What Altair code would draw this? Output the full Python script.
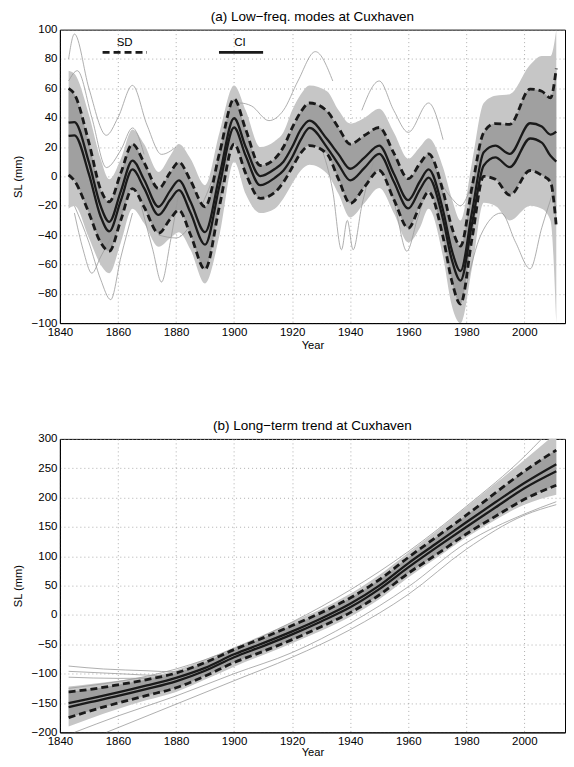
import altair as alt
import pandas as pd

FONT = "Liberation Sans"

# ---------------- Panel (a): low-frequency modes ----------------
years_a = [1843, 1845, 1850, 1854, 1857, 1861, 1865, 1869, 1874, 1878, 1881, 1885, 1890, 1895,
           1900, 1904, 1909, 1914, 1917, 1920, 1923, 1926, 1932, 1936, 1940, 1945, 1950, 1955,
           1960, 1964, 1967, 1972, 1975, 1978, 1982, 1986, 1990, 1995, 2002, 2006, 2009, 2011]
ci_hi_a = [36.6, 37, 9.5, -20, -31, -10, 10.8, -2.3, -20.7, -9.7, -2.7, -17.3, -38, 0.8,
           39.6, 20, 0.2, 5, 10, 20, 32, 38, 25.4, 15, 5.2, 13, 20.9, 2,
           -16.2, -3.5, 4.7, -23.3, -50.3, -64.5, -24, 16.4, 20.9, 15.3, 36.2, 34, 28.5, 30.5]
ci_lo_a = [27.6, 28, 1.5, -27.2, -37.5, -16.4, 4.7, -8, -26.3, -16, -9.4, -24.8, -46.5, -6,
           33.3, 14, -6, -1, 4, 13, 25, 33, 19.8, 8, -2.7, 6, 15.3, -3.5,
           -21.8, -9, -0.9, -29.4, -56.8, -71, -32, 7.4, 13, 6.3, 25.8, 23, 14, 10.1]
sd_hi_a = [60, 56, 23, -8.8, -17.3, 2.4, 22, 9.4, -8.3, 2.7, 9.7, -2.9, -20.7, 16,
           52.8, 32, 7.4, 12, 20, 33, 44, 50, 44.5, 33, 22, 28, 33.3, 16,
           -1.6, 8.7, 15.3, -10.2, -34.7, -47.5, -7, 30, 36, 35.5, 59.5, 58, 53.5, 73.7]
sd_lo_a = [1, -3, -25, -45, -51, -29.7, -8.3, -20.9, -38.7, -29.1, -23, -39.8, -63.4, -20,
           22, 2, -15, -11, -4, 6, 16, 21, 15.3, -2, -18.4, -7, 4, -15.6,
           -35.3, -20.2, -10.6, -41.5, -71.3, -87, -42, 0, -2, -12.8, 4, 0.7, -3.8, -34]
env_hi_a = [72, 70, 42, 12, -2, 12, 32, 22, 3, 14, 22, 12, -6, 30,
            62, 45, 20, 24, 30, 45, 56, 62, 58, 45, 36, 40, 46, 30,
            12, 20, 26, 6, -15, -30, 10, 50, 55, 56, 76, 82, 82, 100]
env_lo_a = [-22, -20, -42, -60, -66, -45, -22, -32, -48, -42, -38, -50, -73, -40,
            10, -12, -25, -22, -15, -5, 4, 8, 2, -12, -28, -18, -8, -25,
            -45, -35, -22, -55, -88, -100, -62, -18, -20, -30, -20, -22, -30, -100]

# individual outlying ensemble members, panel (a)
a_o1_x = [1843, 1845, 1850, 1856, 1860, 1865, 1870, 1875, 1880]
a_o1_y = [80, 97, 60, 28, 40, 62, 35, 15, 20]
a_o2_x = [1843, 1846, 1851, 1856, 1861, 1865, 1869]
a_o2_y = [65, 72, 40, 6, 18, 33, 15]
a_o3_x = [1845, 1850, 1854, 1857.5, 1861, 1865]
a_o3_y = [-20, -45, -70, -84, -55, -25]
a_o4_x = [1845, 1848, 1851, 1854, 1858]
a_o4_y = [-25, -50, -66, -55, -40]
a_o5_x = [1868, 1872, 1875, 1878, 1881]
a_o5_y = [-20, -50, -72, -45, -10]
a_o6_x = [1874, 1880, 1886, 1892, 1897, 1902]
a_o6_y = [-40, -42, -30, -5, 25, 40]
a_o7_x = [1898, 1902, 1906, 1912, 1917, 1922, 1928, 1934]
a_o7_y = [45, 50, 48, 38, 45, 65, 85, 65]
a_o8_x = [1930, 1934, 1937, 1939, 1941, 1944, 1948]
a_o8_y = [20, -10, -50, -30, -50, -20, 10]
a_o9_x = [1952, 1956, 1959.5, 1963, 1967]
a_o9_y = [10, -25, -51, -30, -5]
a_o10_x = [1944, 1950, 1955, 1960, 1967, 1972]
a_o10_y = [45, 65, 45, 30, 50, 25]
a_o11_x = [1980, 1985, 1992, 1997, 2002, 2006, 2010]
a_o11_y = [-75, -40, -25, -45, -63, -35, -10]
a_o12_x = [1970, 1975, 1978, 1982, 1986]
a_o12_y = [0, -15, -20, -5, 20]

# legend (in data units of panel a)
leg_label = ["SD", "CI"]
leg_x1 = [1854.7, 1894.8]
leg_x2 = [1870, 1910]
leg_line_y = [84.5, 84.5]
leg_text_x = [1862.3, 1902]
leg_text_y = [91, 91]

# ---------------- Panel (b): long-term trend ----------------
years_b = [1843, 1850, 1860, 1870, 1880, 1890, 1900, 1910, 1920, 1930, 1940, 1950, 1960,
           1970, 1980, 1990, 2000, 2011]
ci_hi_b = [-150, -143, -132, -120, -107, -90, -67, -48, -28, -6, 19, 50, 88, 123, 158, 192, 225, 257]
ci_lo_b = [-157, -149, -138, -126, -113, -95, -72, -53, -33, -11, 13, 44, 81, 116, 150, 183, 216, 245]
sd_hi_b = [-131, -127, -119, -110, -99, -81, -59, -39, -18, 4, 29, 60, 98, 134, 170, 208, 245, 281]
sd_lo_b = [-175, -164, -150, -137, -124, -104, -81, -62, -42, -20, 4, 34, 71, 104, 138, 168, 197, 221]
env_hi_b = [-122, -118, -112, -105, -94, -76, -55, -34, -12, 10, 36, 68, 106, 144, 184, 224, 264, 310]
env_lo_b = [-190, -177, -160, -145, -131, -110, -88, -68, -48, -27, -3, 27, 64, 98, 132, 162, 188, 205]

b_o1_x = [1843, 1855, 1870, 1880, 1890, 1900]
b_o1_y = [-87, -92, -95, -97, -85, -58]
b_o2_x = [1843, 1860, 1875, 1890, 1900]
b_o2_y = [-96, -100, -103, -90, -62]
b_o3_x = [1843, 1860, 1880, 1895]
b_o3_y = [-106, -108, -107, -80]
b_o4_x = [1856, 1880, 1900, 1920, 1940, 1960, 1980, 2000, 2011]
b_o4_y = [-200, -152, -112, -72, -25, 35, 112, 170, 188]
b_o5_x = [1845, 1860, 1880, 1900, 1920, 1940, 1960, 1980, 2000, 2011]
b_o5_y = [-200, -172, -138, -100, -64, -14, 48, 123, 172, 193]
b_o6_x = [1843, 1880, 1920, 1960, 1980, 2000, 2006]
b_o6_y = [-125, -92, -12, 108, 185, 270, 300]

# ---------------- build tables ----------------
def band_df(yrs, lo, hi):
    return pd.DataFrame({"year": yrs, "lo": lo, "hi": hi})

def lines_df(pairs):
    rows = []
    for name, (xs, ys) in pairs.items():
        for x, y in zip(xs, ys):
            rows.append({"year": x, "value": y, "series": name})
    return pd.DataFrame(rows)

W, H = 506, 294
x_scale = alt.Scale(domain=[1840, 2014], nice=False, zero=False)

GRAY_OUT = "#c6c6c6"
GRAY_IN = "#a0a0a0"
GRAY_LINE = "#9a9a9a"
BLACK = "#1a1a1a"


def panel(title, yrs, ci_hi, ci_lo, sd_hi, sd_lo, env_hi, env_lo, outliers, ydom, ystep,
          legend=False, xtitle_pad=2):
    y_scale = alt.Scale(domain=ydom, nice=False, zero=False)
    y_axis = alt.Axis(values=list(range(ydom[0], ydom[1] + 1, ystep)), title="SL (mm)",
                      labelOverlap=False, labelFlush=False)
    x_axis = alt.Axis(values=list(range(1840, 2001, 20)), format="d", title="Year",
                      labelOverlap=False, labelFlush=False, titlePadding=xtitle_pad)

    def X(f="year"):
        return alt.X(f + ":Q", scale=x_scale, axis=x_axis)

    def Y(f):
        return alt.Y(f + ":Q", scale=y_scale, axis=y_axis)

    outer = alt.Chart(band_df(yrs, env_lo, env_hi)).mark_area(
        color=GRAY_OUT, interpolate="monotone", clip=True
    ).encode(x=X(), y=Y("lo"), y2="hi:Q")

    inner = alt.Chart(band_df(yrs, sd_lo, sd_hi)).mark_area(
        color=GRAY_IN, interpolate="monotone", clip=True
    ).encode(x=X(), y=Y("lo"), y2="hi:Q")

    gray = alt.Chart(lines_df(outliers)).mark_line(
        color=GRAY_LINE, strokeWidth=0.8, interpolate="monotone", clip=True
    ).encode(x=X(), y=Y("value"), detail="series:N")

    sd = alt.Chart(lines_df({"sd_hi": (yrs, sd_hi), "sd_lo": (yrs, sd_lo)})).mark_line(
        color=BLACK, strokeWidth=2.8, strokeDash=[7, 4], interpolate="monotone", clip=True
    ).encode(x=X(), y=Y("value"), detail="series:N")

    ci = alt.Chart(lines_df({"ci_hi": (yrs, ci_hi), "ci_lo": (yrs, ci_lo)})).mark_line(
        color=BLACK, strokeWidth=2.3, interpolate="monotone", clip=True
    ).encode(x=X(), y=Y("value"), detail="series:N")

    layers = [outer, inner, gray, sd, ci]

    if legend:
        leg = pd.DataFrame({"label": leg_label, "x1": leg_x1, "x2": leg_x2,
                            "ly": leg_line_y, "tx": leg_text_x, "ty": leg_text_y})
        leg_sd = alt.Chart(leg[leg.label == "SD"]).mark_rule(
            color=BLACK, strokeWidth=2.8, strokeDash=[7, 4]
        ).encode(x=X("x1"), x2="x2:Q", y=Y("ly"))
        leg_ci = alt.Chart(leg[leg.label == "CI"]).mark_rule(
            color=BLACK, strokeWidth=2.8
        ).encode(x=X("x1"), x2="x2:Q", y=Y("ly"))
        leg_txt = alt.Chart(leg).mark_text(
            font=FONT, fontSize=11.5, color="black", baseline="middle", align="center"
        ).encode(x=X("tx"), y=Y("ty"), text="label:N")
        layers += [leg_sd, leg_ci, leg_txt]

    return alt.layer(*layers).properties(
        width=W, height=H,
        title=alt.TitleParams(title, font=FONT, fontSize=13.5, fontWeight="normal",
                              color="black", offset=0, frame="group"),
    )


top = panel("(a) Low\u2212freq. modes at Cuxhaven", years_a, ci_hi_a, ci_lo_a, sd_hi_a, sd_lo_a,
            env_hi_a, env_lo_a,
            {"o1": (a_o1_x, a_o1_y), "o2": (a_o2_x, a_o2_y), "o3": (a_o3_x, a_o3_y),
             "o4": (a_o4_x, a_o4_y), "o5": (a_o5_x, a_o5_y), "o6": (a_o6_x, a_o6_y),
             "o7": (a_o7_x, a_o7_y), "o8": (a_o8_x, a_o8_y), "o9": (a_o9_x, a_o9_y),
             "o10": (a_o10_x, a_o10_y), "o11": (a_o11_x, a_o11_y), "o12": (a_o12_x, a_o12_y)},
            [-100, 100], 20, legend=True, xtitle_pad=2)

bottom = panel("(b) Long\u2212term trend at Cuxhaven", years_b, ci_hi_b, ci_lo_b, sd_hi_b, sd_lo_b,
               env_hi_b, env_lo_b,
               {"o1": (b_o1_x, b_o1_y), "o2": (b_o2_x, b_o2_y), "o3": (b_o3_x, b_o3_y),
                "o4": (b_o4_x, b_o4_y), "o5": (b_o5_x, b_o5_y), "o6": (b_o6_x, b_o6_y)},
               [-200, 300], 50, xtitle_pad=0)

chart = alt.vconcat(top, bottom, spacing=67).properties(
    padding={"left": 3, "top": 1, "right": 0, "bottom": 0}
).configure_view(
    stroke="black", strokeWidth=1
).configure_axis(
    labelFont=FONT, titleFont=FONT, labelFontSize=11.5, titleFontSize=11.2,
    titleFontWeight="normal", labelColor="black", titleColor="black",
    grid=True, gridDash=[1, 3], gridColor="#9a9a9a", gridWidth=0.8,
    ticks=False, labelPadding=3, domainColor="black", labelOverlap=False,
).configure_axisY(
    titlePadding=8
)

chart.save("out.html", embed_options={"renderer": "svg", "actions": False})
